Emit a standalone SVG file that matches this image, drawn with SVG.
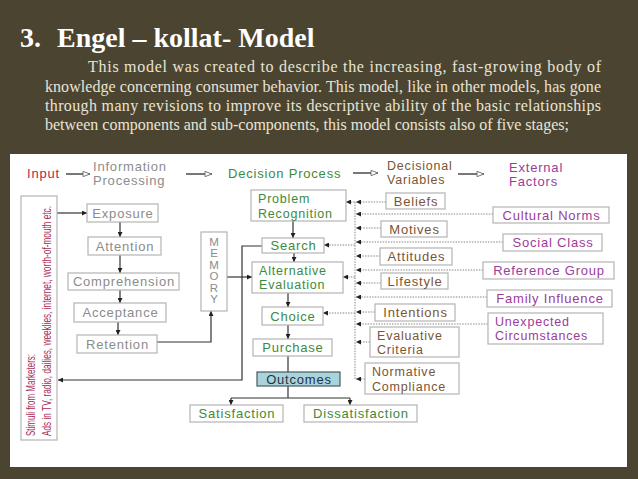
<svg xmlns="http://www.w3.org/2000/svg" width="638" height="479" viewBox="0 0 638 479">
<style>
.bg{fill:#4b4431}
.title{font-family:"Liberation Serif",serif;font-weight:bold;font-size:28px;fill:#ffffff}
.para{font-family:"Liberation Serif",serif;font-size:16px;fill:#e8e4d6}
.d{font-family:"Liberation Sans",Arial,sans-serif;font-size:13px;letter-spacing:0.8px}
.d2{font-size:12.5px}
.m{text-anchor:middle}
.box{fill:#ffffff;stroke:#b4b4b4;stroke-width:1.2}
.gray{fill:#8c8c8c}
.green{fill:#3d8a3d}
.brown{fill:#7a5534}
.purple{fill:#9b3c9b}
.red{fill:#b02850}
.stim{font-family:"Liberation Sans",Arial,sans-serif;font-size:12px;fill:#a8305a}
.mem{font-family:"Liberation Sans",Arial,sans-serif;font-size:11.5px;fill:#8c8c8c;text-anchor:middle}
.solid{fill:none;stroke:#333;stroke-width:1.2}
.dot{fill:none;stroke:#888;stroke-width:1;stroke-dasharray:1.5 1.2}
.hdr{fill:none;stroke:#777;stroke-width:2}
</style>
<defs>
<marker id="ah" viewBox="0 0 6 6" refX="6" refY="3" markerWidth="5" markerHeight="5" orient="auto" markerUnits="userSpaceOnUse"><path d="M0,0 L6,3 L0,6 z" fill="#222"/></marker>
<marker id="oh" viewBox="0 0 10 8" refX="9" refY="4" markerWidth="9" markerHeight="7" orient="auto" markerUnits="userSpaceOnUse"><path d="M1,1 L9,4 L1,7 z" fill="#fff" stroke="#666" stroke-width="1"/></marker>
</defs>
<rect class="bg" x="0" y="0" width="638" height="479"/>
<g id="heading">
<text class="title" x="20" y="47">3.<tspan x="57">Engel – kollat- Model</tspan></text>
<text class="para" x="88" y="72" textLength="513" lengthAdjust="spacing">This model was created to describe the increasing, fast-growing body of</text>
<text class="para" x="45" y="91.5" textLength="556" lengthAdjust="spacing">knowledge concerning consumer behavior. This model, like in other models, has gone</text>
<text class="para" x="45" y="111" textLength="556" lengthAdjust="spacing">through many revisions to improve its descriptive ability of the basic relationships</text>
<text class="para" x="45" y="130">between components and sub-components, this model consists also of five stages;</text>
</g>
<rect x="10" y="154" width="617" height="313" fill="#ffffff"/>
<g id="header-labels">
<text class="d red" x="27" y="178">Input</text>
<text class="d gray" x="93" y="171">Information<tspan x="93" dy="14">Processing</tspan></text>
<text class="d green" x="228" y="178">Decision Process</text>
<text class="d d2 brown" x="387" y="169.5">Decisional<tspan x="387" dy="14.5">Variables</tspan></text>
<text class="d purple" x="509" y="172">External<tspan x="509" dy="14">Factors</tspan></text>
</g>
<g id="connectors">
<line class="hdr" x1="66" y1="174" x2="90" y2="174" marker-end="url(#oh)"/>
<line class="hdr" x1="186" y1="174" x2="212" y2="174" marker-end="url(#oh)"/>
<line class="hdr" x1="353" y1="173" x2="378" y2="173" marker-end="url(#oh)"/>
<line class="hdr" x1="458" y1="174" x2="484" y2="174" marker-end="url(#oh)"/>
<line class="solid" x1="57" y1="213" x2="87" y2="213" marker-end="url(#ah)"/>
<line class="solid" x1="120" y1="221" x2="120" y2="237" marker-end="url(#ah)"/>
<line class="solid" x1="120" y1="255" x2="120" y2="273" marker-end="url(#ah)"/>
<line class="solid" x1="120" y1="290" x2="120" y2="303" marker-end="url(#ah)"/>
<line class="solid" x1="118" y1="322" x2="118" y2="335" marker-end="url(#ah)"/>
<polyline class="solid" points="157,342 211,342 211,311" marker-end="url(#ah)"/>
<line class="solid" x1="227" y1="277" x2="252" y2="277" marker-end="url(#ah)"/>
<polyline class="solid" points="262,246 242,246 242,380 58,380" marker-end="url(#ah)"/>
<line class="solid" x1="293" y1="221" x2="293" y2="238" marker-end="url(#ah)"/>
<line class="solid" x1="294" y1="253" x2="294" y2="262" marker-end="url(#ah)"/>
<line class="solid" x1="288" y1="293" x2="288" y2="307" marker-end="url(#ah)"/>
<line class="solid" x1="288" y1="325" x2="288" y2="339" marker-end="url(#ah)"/>
<line class="solid" x1="288" y1="356" x2="288" y2="372"/>
<line class="solid" x1="288" y1="386" x2="288" y2="398"/>
<line class="solid" x1="231" y1="398" x2="350" y2="398"/>
<line class="solid" x1="231" y1="398" x2="231" y2="405" marker-end="url(#ah)"/>
<line class="solid" x1="350" y1="398" x2="350" y2="405" marker-end="url(#ah)"/>
<line class="dot" x1="355" y1="202" x2="355" y2="380"/>
<line class="dot" x1="355" y1="202" x2="346" y2="202" marker-end="url(#ah)"/>
<line class="dot" x1="355" y1="245" x2="324" y2="245" marker-end="url(#ah)"/>
<line class="dot" x1="355" y1="277" x2="343" y2="277" marker-end="url(#ah)"/>
<line class="dot" x1="355" y1="313" x2="323" y2="313" marker-end="url(#ah)"/>
<line class="dot" x1="386" y1="202" x2="356" y2="202" marker-end="url(#ah)"/>
<line class="dot" x1="493" y1="214" x2="356" y2="214" marker-end="url(#ah)"/>
<line class="dot" x1="381" y1="228" x2="356" y2="228" marker-end="url(#ah)"/>
<line class="dot" x1="503" y1="242" x2="356" y2="242" marker-end="url(#ah)"/>
<line class="dot" x1="380" y1="256" x2="356" y2="256" marker-end="url(#ah)"/>
<line class="dot" x1="483" y1="270" x2="356" y2="270" marker-end="url(#ah)"/>
<line class="dot" x1="381" y1="283" x2="356" y2="283" marker-end="url(#ah)"/>
<line class="dot" x1="487" y1="297" x2="356" y2="297" marker-end="url(#ah)"/>
<line class="dot" x1="375" y1="312" x2="356" y2="312" marker-end="url(#ah)"/>
<line class="dot" x1="488" y1="324" x2="356" y2="324" marker-end="url(#ah)"/>
<line class="dot" x1="370" y1="342" x2="356" y2="342" marker-end="url(#ah)"/>
<line class="dot" x1="365" y1="379" x2="356" y2="379" marker-end="url(#ah)"/>
</g>
<g id="stimuli">
<rect class="box" x="21" y="196" width="36" height="244"/>
<text class="stim" transform="translate(35,436) rotate(-90)" textLength="82" lengthAdjust="spacingAndGlyphs">Stimuli from Marketers:</text>
<text class="stim" transform="translate(51,436) rotate(-90)" textLength="230" lengthAdjust="spacingAndGlyphs">Ads in TV, radio, dailies, weeklies, internet, worth-of-mouth etc.</text>
</g>
<g id="exposure"><rect class="box" x="87" y="204" width="71" height="18"/><text class="d gray m" x="123" y="217.5">Exposure</text></g>
<g id="attention"><rect class="box" x="88" y="237" width="73" height="18"/><text class="d gray m" x="125" y="250.5">Attention</text></g>
<g id="comprehension"><rect class="box" x="68" y="273" width="111" height="17"/><text class="d gray m" x="124" y="286">Comprehension</text></g>
<g id="acceptance"><rect class="box" x="74" y="303" width="92" height="19"/><text class="d gray m" x="120.5" y="317">Acceptance</text></g>
<g id="retention"><rect class="box" x="77" y="335" width="80" height="18"/><text class="d gray m" x="117.5" y="348.5">Retention</text></g>
<g id="memory"><rect class="box" x="201" y="232" width="26" height="79"/>
<text class="mem" x="214" y="245.5">M</text><text class="mem" x="214" y="257">E</text><text class="mem" x="214" y="268.5">M</text><text class="mem" x="214" y="280">O</text><text class="mem" x="214" y="291.5">R</text><text class="mem" x="214" y="303">Y</text></g>
<g id="problem-recognition"><rect class="box" x="251" y="190" width="95" height="31"/><text class="d d2 green" x="258" y="203">Problem<tspan x="258" dy="14.5">Recognition</tspan></text></g>
<g id="search"><rect class="box" x="262" y="238" width="62" height="15"/><text class="d green m" x="293.5" y="250">Search</text></g>
<g id="alternative-evaluation"><rect class="box" x="252" y="262" width="91" height="31"/><text class="d d2 green" x="259" y="274.5">Alternative<tspan x="259" dy="14.5">Evaluation</tspan></text></g>
<g id="choice"><rect class="box" x="262" y="307" width="61" height="18"/><text class="d green m" x="293" y="320.5">Choice</text></g>
<g id="purchase"><rect class="box" x="253" y="339" width="79" height="17"/><text class="d green m" x="293" y="352">Purchase</text></g>
<g id="outcomes"><rect x="257" y="372" width="83" height="14" fill="#a9d4dc" stroke="#4a5a60" stroke-width="1.2"/><text class="d m" x="299" y="383.5" fill="#1e3440">Outcomes</text></g>
<g id="satisfaction"><rect class="box" x="190" y="405" width="93" height="17"/><text class="d green m" x="237" y="418">Satisfaction</text></g>
<g id="dissatisfaction"><rect class="box" x="304" y="405" width="113" height="17"/><text class="d green m" x="361" y="418">Dissatisfaction</text></g>
<g id="beliefs"><rect class="box" x="386" y="193" width="59" height="16"/><text class="d brown m" x="416" y="205.5">Beliefs</text></g>
<g id="motives"><rect class="box" x="381" y="221" width="66" height="16"/><text class="d brown m" x="414.5" y="233.5">Motives</text></g>
<g id="attitudes"><rect class="box" x="380" y="248" width="72" height="17"/><text class="d brown m" x="416.5" y="261">Attitudes</text></g>
<g id="lifestyle"><rect class="box" x="381" y="273" width="67" height="16"/><text class="d brown m" x="415" y="285.5">Lifestyle</text></g>
<g id="intentions"><rect class="box" x="375" y="304" width="80" height="17"/><text class="d brown m" x="415.5" y="317">Intentions</text></g>
<g id="evaluative-criteria"><rect class="box" x="370" y="327" width="89" height="30"/><text class="d d2 brown" x="377" y="339.5">Evaluative<tspan x="377" dy="14.5">Criteria</tspan></text></g>
<g id="normative-compliance"><rect class="box" x="365" y="363" width="94" height="31"/><text class="d d2 brown" x="372" y="376">Normative<tspan x="372" dy="14.5">Compliance</tspan></text></g>
<g id="cultural-norms"><rect class="box" x="493" y="207" width="116" height="16"/><text class="d purple m" x="551.5" y="219.5">Cultural Norms</text></g>
<g id="social-class"><rect class="box" x="503" y="234" width="99" height="17"/><text class="d purple m" x="553" y="247">Social Class</text></g>
<g id="reference-group"><rect class="box" x="483" y="262" width="131" height="17"/><text class="d purple m" x="549" y="275">Reference Group</text></g>
<g id="family-influence"><rect class="box" x="487" y="290" width="125" height="17"/><text class="d purple m" x="550" y="303">Family Influence</text></g>
<g id="unexpected-circumstances"><rect class="box" x="488" y="313" width="115" height="31"/><text class="d d2 purple" x="495" y="325.5">Unexpected<tspan x="495" dy="14.5">Circumstances</tspan></text></g>
</svg>
